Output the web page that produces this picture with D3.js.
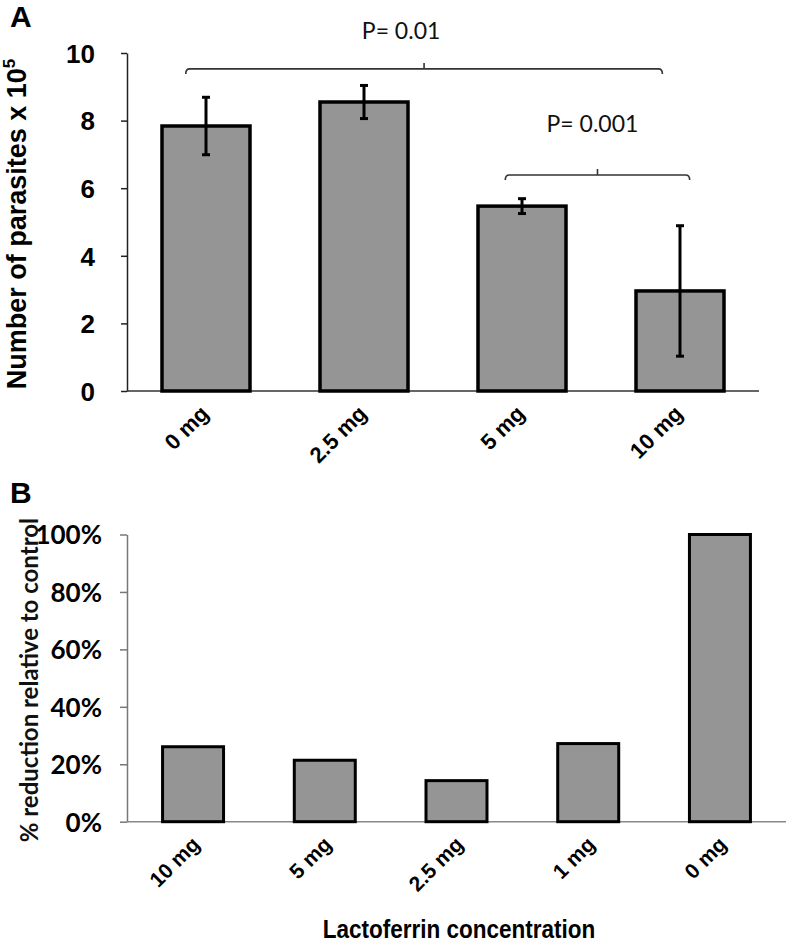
<!DOCTYPE html>
<html><head><meta charset="utf-8">
<script src="https://cdn.jsdelivr.net/npm/d3@7"></script>
<style>body{margin:0;background:#fff}svg{display:block}</style>
</head><body>
<svg id="c" width="789" height="943"></svg>
<script>
// Panel A data
const catsA = ["0 mg", "2.5 mg", "5 mg", "10 mg"];
const valsA = [7.84, 8.55, 5.47, 2.96];
const errA = [0.85, 0.49, 0.22, 1.93];
const ticksA = [0, 2, 4, 6, 8, 10];
const bracketsA = [
  {from: "0 mg", to: "10 mg", fFrom: 0.27, fTo: 0.30, y: 9.53, label: "P= 0.01", labelY: 10.4, labelShift: -23},
  {from: "5 mg", to: "10 mg", fFrom: 0.31, fTo: 0.61, y: 6.39, label: "P= 0.001", labelY: 7.65, labelShift: -5}
];
// Panel B data
const catsB = ["10 mg", "5 mg", "2.5 mg", "1 mg", "0 mg"];
const valsB = [26.1, 21.4, 14.3, 27.2, 100];
const ticksB = [0, 20, 40, 60, 80, 100];

const svg = d3.select("#c");
const fill = "#959595";

// ---------- Panel A ----------
const xA = d3.scaleBand().domain(catsA).range([127, 759]).paddingInner(0.443).paddingOuter(0.2215);
const yA = d3.scaleLinear().domain([0, 10]).range([391, 53]);
const gA = svg.append("g");

gA.append("g").attr("transform", "translate(127,0)")
  .call(d3.axisLeft(yA).tickValues(ticksA).tickSize(6).tickSizeOuter(0).tickFormat(d3.format("d")))
  .call(g => g.select(".domain").attr("stroke", "#222").attr("stroke-width", 1.5))
  .call(g => g.selectAll(".tick line").attr("stroke", "#222").attr("stroke-width", 1.5))
  .call(g => g.selectAll(".tick text").attr("x", -32).attr("font-family", "Liberation Sans, Arial, sans-serif")
    .attr("font-weight", "bold").attr("font-size", 26).attr("fill", "#000").attr("dy", "0.36em"));

gA.append("line").attr("x1", 127).attr("x2", 759).attr("y1", yA(0)).attr("y2", yA(0))
  .attr("stroke", "#333").attr("stroke-width", 1.5);

gA.selectAll("rect.bar").data(catsA).join("rect").attr("class", "bar")
  .attr("x", d => xA(d)).attr("width", xA.bandwidth())
  .attr("y", (d, i) => yA(valsA[i])).attr("height", (d, i) => yA(0) - yA(valsA[i]))
  .attr("fill", fill).attr("stroke", "#000").attr("stroke-width", 3.5);

// error bars
const eb = gA.selectAll("g.err").data(catsA).join("g").attr("class", "err");
eb.append("line").attr("x1", d => xA(d) + xA.bandwidth() / 2).attr("x2", d => xA(d) + xA.bandwidth() / 2)
  .attr("y1", (d, i) => yA(valsA[i] + errA[i])).attr("y2", (d, i) => yA(valsA[i] - errA[i]))
  .attr("stroke", "#000").attr("stroke-width", 3);
[1, -1].forEach(s => {
  eb.append("line").attr("x1", d => xA(d) + xA.bandwidth() / 2 - 4).attr("x2", d => xA(d) + xA.bandwidth() / 2 + 4)
    .attr("y1", (d, i) => yA(valsA[i] + s * errA[i])).attr("y2", (d, i) => yA(valsA[i] + s * errA[i]))
    .attr("stroke", "#000").attr("stroke-width", 3);
});

// x labels A
gA.selectAll("text.xl").data(catsA).join("text").attr("class", "xl")
  .attr("transform", d => `translate(${xA(d) + xA.bandwidth() / 2 + 4},${yA(0) + 24}) rotate(-45)`)
  .attr("text-anchor", "end").attr("font-family", "Liberation Sans, Arial, sans-serif")
  .attr("font-weight", "bold").attr("font-size", 22).text(d => d);

// brackets
bracketsA.forEach(b => {
  const x1 = xA(b.from) + xA.bandwidth() * b.fFrom;
  const x2 = xA(b.to) + xA.bandwidth() * b.fTo;
  const y = yA(b.y), xm = (x1 + x2) / 2;
  gA.append("path").attr("d", `M${x1},${y + 5}Q${x1},${y} ${x1 + 4},${y}L${x2 - 4},${y}Q${x2},${y} ${x2},${y + 5}M${xm},${y}L${xm},${y - 6}`)
    .attr("fill", "none").attr("stroke", "#333").attr("stroke-width", 1.6);
  gA.append("text").attr("x", xm + b.labelShift).attr("y", yA(b.labelY)).attr("text-anchor", "middle")
    .attr("font-family", "Lato, sans-serif").attr("font-size", 23).attr("fill", "#111").text(b.label);
});

// y label A
const ylA = gA.append("text").attr("transform", `translate(26,${(yA(0) + yA(10)) / 2 + 2}) rotate(-90)`)
  .attr("text-anchor", "middle").attr("font-family", "Liberation Sans, Arial, sans-serif")
  .attr("font-weight", "bold").attr("font-size", 27);
ylA.append("tspan").text("Number of parasites x 10");
ylA.append("tspan").attr("dy", -11).attr("font-size", 17).text("5");

svg.append("text").attr("x", 10).attr("y", 27).attr("font-family", "Liberation Sans, Arial, sans-serif")
  .attr("font-weight", "bold").attr("font-size", 30).text("A");

// ---------- Panel B ----------
const xB = d3.scaleBand().domain(catsB).range([127, 786]).paddingInner(0.537).paddingOuter(0.27);
const yB = d3.scaleLinear().domain([0, 100]).range([821.7, 534.5]);
const gB = svg.append("g");

gB.append("g").attr("transform", "translate(127,0)")
  .call(d3.axisLeft(yB).tickValues(ticksB).tickSize(7).tickSizeOuter(0).tickFormat(d => d + "%"))
  .call(g => g.select(".domain").attr("stroke", "#777").attr("stroke-width", 1.5))
  .call(g => g.selectAll(".tick line").attr("stroke", "#777").attr("stroke-width", 1.5))
  .call(g => g.selectAll(".tick text").attr("x", -25).attr("font-family", "Lato, sans-serif")
    .attr("font-weight", "bold").attr("font-size", 26).attr("fill", "#000").attr("dy", "0.36em"));

gB.append("line").attr("x1", 127).attr("x2", 786).attr("y1", yB(0)).attr("y2", yB(0))
  .attr("stroke", "#888").attr("stroke-width", 1.5);

gB.selectAll("rect.bar").data(catsB).join("rect").attr("class", "bar")
  .attr("x", d => xB(d)).attr("width", xB.bandwidth())
  .attr("y", (d, i) => yB(valsB[i])).attr("height", (d, i) => yB(0) - yB(valsB[i]))
  .attr("fill", fill).attr("stroke", "#000").attr("stroke-width", 3);

gB.selectAll("text.xl").data(catsB).join("text").attr("class", "xl")
  .attr("transform", d => `translate(${xB(d) + xB.bandwidth() / 2 + 8},${yB(0) + 24}) rotate(-45)`)
  .attr("text-anchor", "end").attr("font-family", "Liberation Sans, Arial, sans-serif")
  .attr("font-weight", "bold").attr("font-size", 21).text(d => d);

gB.append("text").attr("transform", `translate(38,${(yB(0) + yB(100)) / 2 + 2}) rotate(-90)`)
  .attr("text-anchor", "middle").attr("font-family", "Lato, sans-serif")
  .attr("font-weight", "bold").attr("font-size", 24).attr("fill", "#111").text("% reduction relative to control");

gB.append("text").attr("transform", "translate(459,938) scale(0.9,1)").attr("text-anchor", "middle")
  .attr("font-family", "Liberation Sans, Arial, sans-serif")
  .attr("font-weight", "bold").attr("font-size", 25).text("Lactoferrin concentration");

svg.append("text").attr("x", 10).attr("y", 503).attr("font-family", "Liberation Sans, Arial, sans-serif")
  .attr("font-weight", "bold").attr("font-size", 30).text("B");
</script>
</body></html>
